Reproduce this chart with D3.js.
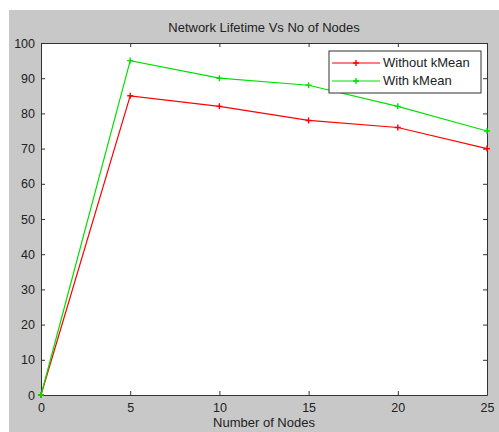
<!DOCTYPE html>
<html>
<head>
<meta charset="utf-8">
<script src="https://cdn.jsdelivr.net/npm/d3@7"></script>
<style>
  body { margin: 0; background: #fff; }
  svg text { font-family: "Liberation Sans", Arial, sans-serif; fill: #222; }
</style>
</head>
<body>
<svg id="chart" width="499" height="432"></svg>
<script>
// chart data
const nodes = [0, 5, 10, 15, 20, 25];
const withoutKMean = [0, 85, 82, 78, 76, 70];
const withKMean = [0, 95, 90, 88, 82, 75];
const xTicks = [0, 5, 10, 15, 20, 25];
const yTicks = [0, 10, 20, 30, 40, 50, 60, 70, 80, 90, 100];
const seriesNames = ["Without kMean", "With kMean"];
const seriesColors = ["#ff0000", "#00e000"];

const svg = d3.select('#chart');

// figure background (MATLAB grey)
svg.append('rect')
    .attr('x', 9).attr('y', 10)
    .attr('width', 490).attr('height', 422)
    .attr('fill', '#c8c8c8');

const plot = { left: 41, top: 43, right: 487, bottom: 395 };

const x = d3.scaleLinear().domain([0, 25]).range([plot.left, plot.right]);
const y = d3.scaleLinear().domain([0, 100]).range([plot.bottom, plot.top]);

svg.append('rect')
    .attr('x', plot.left).attr('y', plot.top)
    .attr('width', plot.right - plot.left).attr('height', plot.bottom - plot.top)
    .attr('fill', '#fff');

// axes, ticks pointing inward
const tickLen = 4;
const styleAxis = g => {
    g.select('.domain').attr('stroke', '#333');
    g.selectAll('.tick line').attr('stroke', '#333');
    g.selectAll('.tick text').style('font-size', '12.5px').attr('fill', '#222');
};

svg.append('g')
    .attr('transform', `translate(0,${plot.bottom})`)
    .call(d3.axisBottom(x).tickValues(xTicks).tickSize(-tickLen).tickSizeOuter(0).tickPadding(8))
    .call(styleAxis);

svg.append('g')
    .attr('transform', `translate(0,${plot.top})`)
    .call(d3.axisTop(x).tickValues(xTicks).tickSize(-tickLen).tickSizeOuter(0).tickFormat(''))
    .call(styleAxis);

svg.append('g')
    .attr('transform', `translate(${plot.left},0)`)
    .call(d3.axisLeft(y).tickValues(yTicks).tickSize(-tickLen).tickSizeOuter(0).tickPadding(6))
    .call(styleAxis);

svg.append('g')
    .attr('transform', `translate(${plot.right},0)`)
    .call(d3.axisRight(y).tickValues(yTicks).tickSize(-tickLen).tickSizeOuter(0).tickFormat(''))
    .call(styleAxis);

// lines
const series = [withoutKMean, withKMean];
const line = d3.line()
    .x((d, i) => x(nodes[i]))
    .y(d => y(d));

series.forEach((vals, s) => {
    svg.append('path')
        .datum(vals)
        .attr('fill', 'none')
        .attr('stroke', seriesColors[s])
        .attr('stroke-width', 1.2)
        .attr('d', line);

    svg.selectAll(null)
        .data(vals)
        .enter()
        .append('path')
        .attr('transform', (d, i) => `translate(${x(nodes[i])},${y(d)})`)
        .attr('d', 'M-3,0H3M0,-3V3')
        .attr('stroke', seriesColors[s])
        .attr('stroke-width', 1.4);
});

// title and label
svg.append('text')
    .attr('x', (plot.left + plot.right) / 2).attr('y', 32)
    .attr('text-anchor', 'middle')
    .style('font-size', '13px')
    .text('Network Lifetime Vs No of Nodes');

svg.append('text')
    .attr('x', (plot.left + plot.right) / 2).attr('y', 427)
    .attr('text-anchor', 'middle')
    .style('font-size', '13px')
    .text('Number of Nodes');

// legend
const legend = svg.append('g').attr('transform', 'translate(329,51)');
legend.append('rect')
    .attr('width', 152).attr('height', 42)
    .attr('fill', '#fff')
    .attr('stroke', '#333');

seriesNames.forEach((name, s) => {
    const ly = 12 + s * 18;
    legend.append('line')
        .attr('x1', 3).attr('x2', 51)
        .attr('y1', ly).attr('y2', ly)
        .attr('stroke', seriesColors[s]).attr('stroke-width', 1.2);
    legend.append('path')
        .attr('transform', `translate(27,${ly})`)
        .attr('d', 'M-3,0H3M0,-3V3')
        .attr('stroke', seriesColors[s]).attr('stroke-width', 1.4);
    legend.append('text')
        .attr('x', 54).attr('y', ly + 4)
        .style('font-size', '13px')
        .text(name);
});
</script>
</body>
</html>
